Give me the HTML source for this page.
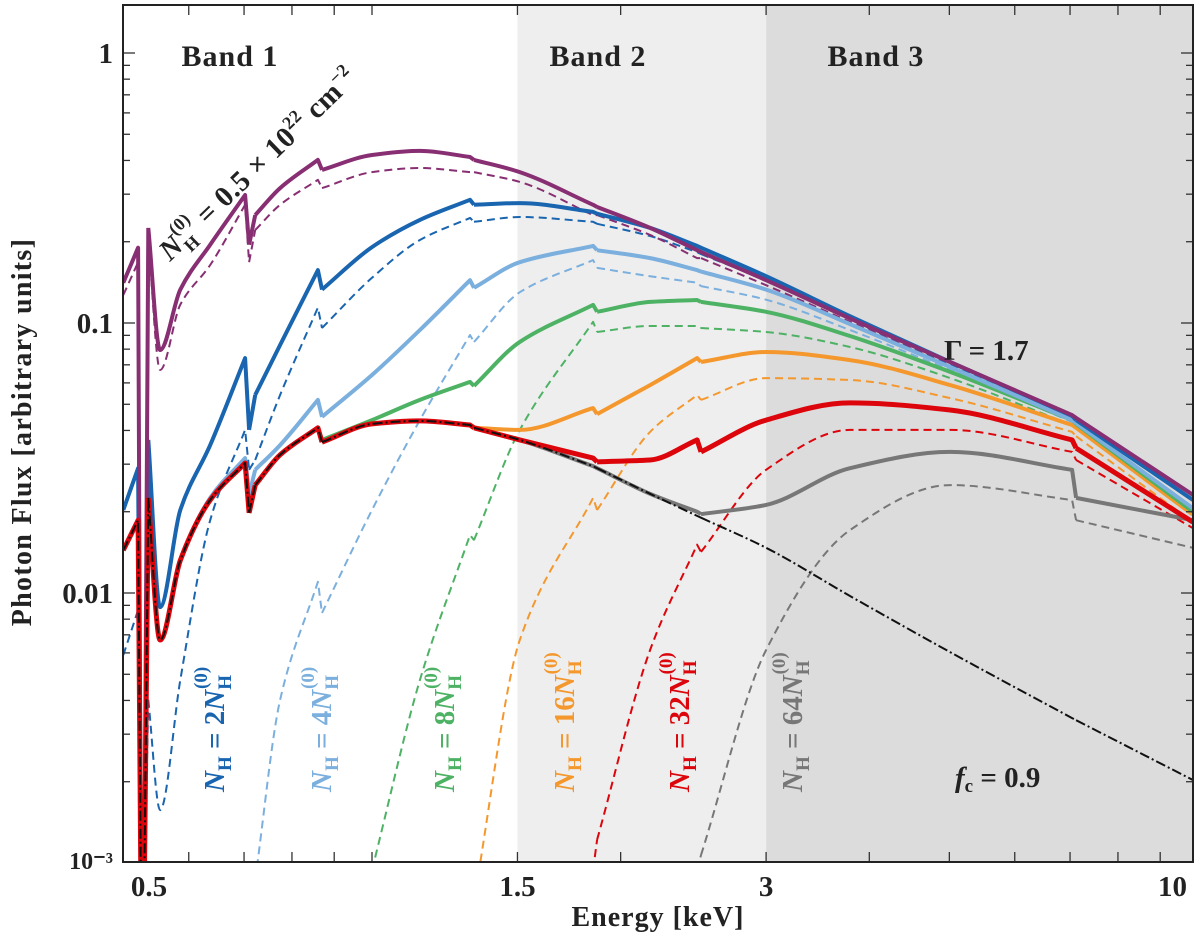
<!DOCTYPE html>
<html><head><meta charset="utf-8"><style>
html,body{margin:0;padding:0;background:#fff;}
svg{display:block;font-family:"Liberation Serif",serif;}
</style></head><body>
<svg id="chart" width="1200" height="942" viewBox="0 0 1200 942" xmlns="http://www.w3.org/2000/svg">
<defs><clipPath id="plotclip"><rect x="123" y="5" width="1070" height="857"/></clipPath></defs>
<g id="bands"></g>
<g id="curves" clip-path="url(#plotclip)"></g>
<g id="axes"></g>
<g id="labels" font-weight="bold" font-size="30" fill="#222">
  <text x="230" y="66" text-anchor="middle" letter-spacing="1">Band 1</text>
  <text x="598" y="66" text-anchor="middle" letter-spacing="1">Band 2</text>
  <text x="876" y="66" text-anchor="middle" letter-spacing="1">Band 3</text>
  <text x="944" y="360" font-size="29">Γ = 1.7</text>
  <text x="955" y="787" font-size="29"><tspan font-style="italic">f</tspan><tspan font-size="19" dy="5">c</tspan><tspan dy="-5"> = 0.9</tspan></text>
  <text transform="translate(170,262) rotate(-44)" font-size="29" letter-spacing="0.5"><tspan font-style="italic">N</tspan><tspan font-size="18" dy="8">H</tspan><tspan font-size="18" dy="-23" dx="-14">(0)</tspan><tspan dy="15"> = 0.5 × 10</tspan><tspan font-size="18" dy="-12">22</tspan><tspan dy="12"> cm</tspan><tspan font-size="18" dy="-12">−2</tspan></text>
</g>
<g id="vlabels" font-weight="bold" font-size="29"></g>
</svg>
<script>
const energies = [0.50,0.521,0.525,0.530,0.536,0.554,0.586,0.637,0.702,0.710,0.722,0.774,0.860,0.870,1.0,1.143,1.314,1.329,1.51,1.852,1.873,2.171,2.475,2.502,3.0,3.79,5.01,7.04,7.12,9.86];
const purpleSolid = [0.141,0.190,0.0008,0.0008,0.225,0.0794,0.133,0.195,0.298,0.195,0.251,0.316,0.402,0.369,0.419,0.434,0.412,0.402,0.362,0.274,0.269,0.225,0.186,0.183,0.144,0.104,0.0717,0.0456,0.0445,0.0231];
const purpleDash = [0.127,0.168,0.0008,0.0008,0.203,0.067,0.117,0.164,0.274,0.168,0.221,0.274,0.339,0.316,0.362,0.375,0.362,0.362,0.333,0.251,0.251,0.212,0.174,0.174,0.138,0.101,0.0693,0.0437,0.043,0.020];
const blueSolid = [0.0203,0.029,0.0008,0.0008,0.0369,0.00887,0.0203,0.0353,0.0741,0.0402,0.0541,0.0829,0.157,0.133,0.191,0.241,0.286,0.274,0.278,0.258,0.254,0.225,0.193,0.19,0.149,0.106,0.0717,0.0453,0.0437,0.0221];
const blueDash = [0.00589,0.00865,0.0008,0.0008,0.00402,0.00157,0.00476,0.0186,0.0402,0.0286,0.0311,0.0541,0.114,0.0958,0.147,0.203,0.245,0.237,0.247,0.237,0.233,0.21,0.183,0.18,0.144,0.103,0.0699,0.0437,0.0426,0.0206];
const lightBlueSolid = [0.0144,0.0186,0.0008,0.0008,0.0225,0.0067,0.0132,0.0225,0.0316,0.0231,0.0286,0.0353,0.0519,0.0449,0.0642,0.0942,0.144,0.135,0.168,0.193,0.186,0.174,0.157,0.155,0.133,0.0991,0.0687,0.0437,0.0426,0.0206];
const lightBlueDash = [null,null,null,null,null,null,null,null,0.000984,0.00052,0.000865,0.00402,0.011,0.00843,0.0203,0.0437,0.0903,0.0851,0.13,0.171,0.16,0.149,0.141,0.137,0.122,0.0942,0.067,0.043,0.0419,0.0203];
const greenSolid = [0.0144,0.0186,0.0008,0.0008,0.0225,0.0067,0.0132,0.0221,0.0303,0.0198,0.0251,0.0325,0.0409,0.0369,0.0437,0.0519,0.0605,0.0585,0.0851,0.1167,0.110,0.1197,0.1217,0.1197,0.110,0.0895,0.0659,0.0437,0.0423,0.020];
const greenDash = [null,null,null,null,null,null,null,null,null,null,null,null,null,null,0.000942,0.00476,0.0164,0.0157,0.0402,0.101,0.0926,0.0975,0.0975,0.0958,0.0926,0.0815,0.0625,0.0419,0.0409,0.0195];
const orangeSolid = [0.0144,0.0186,0.0008,0.0008,0.0225,0.0067,0.0132,0.0221,0.0303,0.0198,0.0251,0.0325,0.0409,0.0362,0.0423,0.0434,0.0419,0.0409,0.0402,0.0484,0.046,0.0589,0.0741,0.0717,0.0781,0.0729,0.0589,0.0419,0.0409,0.0195];
const orangeDash = [null,null,null,null,null,null,null,null,null,null,null,null,null,null,null,null,0.000615,0.00073,0.0067,0.0225,0.0203,0.0395,0.0541,0.0519,0.0625,0.0615,0.0527,0.0395,0.0381,0.0183];
const redSolid = [0.0144,0.0186,0.0008,0.0008,0.0225,0.0067,0.0132,0.0221,0.0303,0.0198,0.0251,0.0325,0.0409,0.0362,0.0423,0.0434,0.0419,0.0409,0.0369,0.0316,0.0306,0.0311,0.0369,0.0333,0.0437,0.0506,0.0476,0.0369,0.0344,0.0183];
const redDash = [null,null,null,null,null,null,null,null,null,null,null,null,null,null,null,null,null,null,null,0.000942,0.00122,0.00615,0.0151,0.0142,0.0286,0.0402,0.0402,0.0333,0.0311,0.0174];
const graySolid = [0.0144,0.0186,0.0008,0.0008,0.0225,0.0067,0.0132,0.0221,0.0303,0.0198,0.0251,0.0325,0.0409,0.0362,0.0423,0.0434,0.0419,0.0409,0.0369,0.0295,0.029,0.0233,0.020,0.0196,0.0212,0.029,0.0333,0.0286,0.0225,0.0186];
const grayDash = [null,null,null,null,null,null,null,null,null,null,null,null,null,null,null,null,null,null,null,null,null,null,0.000942,0.00107,0.00615,0.0171,0.0251,0.0221,0.0186,0.0147];
const continuum = [0.0144,0.0186,0.0008,0.0008,0.0225,0.0067,0.0132,0.0221,0.0303,0.0198,0.0251,0.0325,0.0409,0.0362,0.0423,0.0434,0.0419,0.0409,0.0369,0.0295,0.029,0.0233,0.0193,0.019,0.0147,0.00975,0.00604,0.00344,0.00338,0.00203];
const xTickValues = [0.5,1.5,3,10];
const xTickLabels = ["0.5","1.5","3","10"];
const xMinorValues = [0.6,0.7,0.8,0.9,1,2,4,5,6,7,8,9];
const yTickValues = [1,0.1,0.01,0.001];
const yTickLabels = ["1","0.1","0.01","10⁻³"];
const bandEdges = [0.5,1.5,3,9.87];

const NS="http://www.w3.org/2000/svg";
const X0=123,X1=1193,Y0=5,Y1=862;
function xs(e){return 372+826*Math.log10(e);}
function ys(f){return 53-270*Math.log10(f);}
function mk(tag,attrs,parent){const el=document.createElementNS(NS,tag);for(const k in attrs)el.setAttribute(k,attrs[k]);parent.appendChild(el);return el;}

const bands=document.getElementById('bands');
const b1=mk('rect',{x:X0,y:Y0,width:xs(bandEdges[1])-X0,height:Y1-Y0,fill:'#ffffff'},bands);


const b2=mk('rect',{x:xs(bandEdges[1]),y:Y0,width:xs(bandEdges[2])-xs(bandEdges[1]),height:Y1-Y0,fill:'#eeeeee'},bands);


const b3=mk('rect',{x:xs(bandEdges[2]),y:Y0,width:X1-xs(bandEdges[2]),height:Y1-Y0,fill:'#dcdcdc'},bands);



const curves=document.getElementById('curves');
// smooth path: runs separated at absorption edges (tiny dx), monotone cubic inside runs
function pathFor(vals){
  const runs=[];let cur=[];
  for(let i=0;i<energies.length;i++){
    const v=vals[i];
    if(v==null){if(cur.length)runs.push(cur);cur=[];continue;}
    const p=[xs(energies[i]),ys(v)];
    if(cur.length&&p[0]-cur[cur.length-1][0]<7){cur.push(p);runs.push(cur);cur=[p];continue;}
    cur.push(p);
  }
  if(cur.length)runs.push(cur);
  let d='';
  runs.forEach(r=>{
    if(r.length<2){return;}
    d+='M'+r[0][0].toFixed(1)+','+r[0][1].toFixed(1);
    if(r.length===2||r[r.length-1][0]-r[r.length-2][0]<7&&r.length===2){d+='L'+r[1][0].toFixed(1)+','+r[1][1].toFixed(1);return;}
    // segment runs: last point may be an edge jump
    let pts=r, tail=null;
    if(r.length>2&&r[r.length-1][0]-r[r.length-2][0]<7){pts=r.slice(0,-1);tail=r[r.length-1];}
    const n=pts.length;const dx=[],sl=[];
    for(let i=0;i<n-1;i++){dx.push(pts[i+1][0]-pts[i][0]);sl.push((pts[i+1][1]-pts[i][1])/dx[i]);}
    const m=[];
    for(let i=0;i<n;i++){
      if(i===0)m.push(sl[0]);else if(i===n-1)m.push(sl[n-2]);
      else{ if(sl[i-1]*sl[i]<=0)m.push(0); else m.push(2/(1/sl[i-1]+1/sl[i])); }
    }
    for(let i=0;i<n-1;i++){
      const h=dx[i]/3;
      d+='C'+(pts[i][0]+h).toFixed(1)+','+(pts[i][1]+m[i]*h).toFixed(1)+' '+(pts[i+1][0]-h).toFixed(1)+','+(pts[i+1][1]-m[i+1]*h).toFixed(1)+' '+pts[i+1][0].toFixed(1)+','+pts[i+1][1].toFixed(1);
    }
    if(tail)d+='L'+tail[0].toFixed(1)+','+tail[1].toFixed(1);
  });
  return d;
}
function draw(vals,color,w,dash,name){const p=mk('path',{d:pathFor(vals),fill:'none',stroke:color,'stroke-width':w,'stroke-linejoin':'round'},curves);if(dash)p.setAttribute('stroke-dasharray',dash);


return p;}
const C={purple:'#882e72',blue:'#1965b0',lb:'#7bafde',green:'#4eb265',orange:'#f4982e',red:'#dc050c',gray:'#777777'};
draw(grayDash,C.gray,2,'8,5','gray-dashed-line');
draw(redDash,C.red,2,'8,5','red-dashed-line');
draw(orangeDash,C.orange,2,'8,5','orange-dashed-line');
draw(greenDash,C.green,2,'8,5','green-dashed-line');
draw(lightBlueDash,C.lb,2,'8,5','light-blue-dashed-line');
draw(blueDash,C.blue,2,'8,5','blue-dashed-line');
draw(purpleDash,C.purple,2,'8,5','purple-dashed-line');
draw(graySolid,C.gray,4,null,'gray-solid-line');
draw(orangeSolid,C.orange,4,null,'orange-solid-line');
draw(greenSolid,C.green,4,null,'green-solid-line');
draw(lightBlueSolid,C.lb,4,null,'light-blue-solid-line');
draw(blueSolid,C.blue,4,null,'blue-solid-line');
draw(purpleSolid,C.purple,4,null,'purple-solid-line');
draw(redSolid,C.red,5,null,'red-solid-line');
draw(continuum,'#111',2,'10,3,2,3','continuum-dashdot-line');

const axes=document.getElementById('axes');
function tick(x1,y1,x2,y2,name){const t=mk('line',{x1:x1,y1:y1,x2:x2,y2:y2,stroke:'#333','stroke-width':1.3},axes);

}
xTickValues.concat(xMinorValues).forEach(v=>{const x=xs(v);if(x<X0+1||x>X1-1)return;tick(x,Y1,x,Y1-10,'x-tick');tick(x,Y0,x,Y0+10,'x-tick-top');});
for(let dec=-3;dec<=0;dec++){for(let m=1;m<=9;m++){const f=m*Math.pow(10,dec);const y=ys(f);if(y<Y0||y>Y1)continue;const L=m===1?12:7;tick(X0,y,X0+L,y,'y-tick');tick(X1,y,X1-L,y,'y-tick-right');}}
const fr=mk('rect',{x:X0,y:Y0,width:X1-X0,height:Y1-Y0,fill:'none',stroke:'#222','stroke-width':2},axes);


xTickValues.forEach((v,i)=>{let x=xs(v);let anchor='middle';if(i===0){x=X0+26;}if(i===xTickValues.length-1){x=X1-6;anchor='end';}
const t=mk('text',{x:x,y:896,'text-anchor':anchor,'font-size':29,'font-weight':'bold',fill:'#222'},axes);t.textContent=xTickLabels[i];

});
yTickValues.forEach((v,i)=>{const t=mk('text',{x:113,y:ys(v)+(i===3?6:10),'text-anchor':'end','font-size':i===3?24:29,'font-weight':'bold',fill:'#222'},axes);t.textContent=yTickLabels[i];

});
const xt=mk('text',{x:658,y:926,'text-anchor':'middle','font-size':28,'font-weight':'bold',fill:'#222','letter-spacing':1},axes);xt.textContent='Energy [keV]';


const yt=mk('text',{x:0,y:0,'text-anchor':'middle','font-size':28,'font-weight':'bold',fill:'#222','letter-spacing':1.3,transform:'translate(31,432) rotate(-90)'},axes);yt.textContent='Photon Flux [arbitrary units]';



const vl=document.getElementById('vlabels');
const vlabelMult=["2","4","8","16","32","64"];
const vlabelX=[224,331,454,574,689,802];
const vlabelCol=[C.blue,C.lb,C.green,C.orange,C.red,C.gray];
vlabelMult.forEach((m,i)=>{const t=mk('text',{transform:'translate('+vlabelX[i]+',792) rotate(-90)',fill:vlabelCol[i]},vl);


t.innerHTML='<tspan font-style="italic">N</tspan><tspan font-size="19" dy="7">H</tspan><tspan dy="-7"> = '+m+'</tspan><tspan font-style="italic">N</tspan><tspan font-size="19" dy="7">H</tspan><tspan font-size="19" dy="-24" dx="-14">(0)</tspan>';});
</script>
</body></html>
